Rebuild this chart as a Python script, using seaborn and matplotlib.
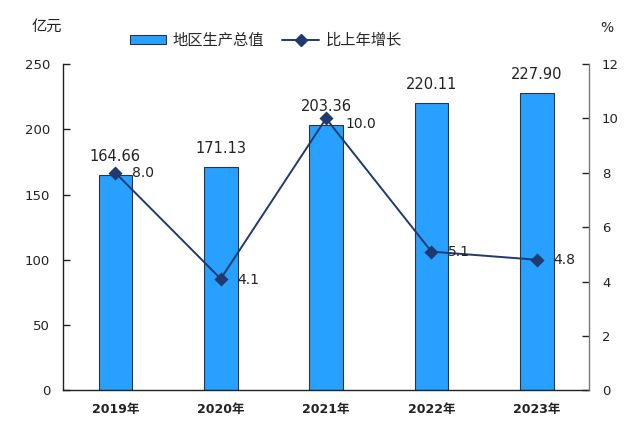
import numpy as np
import pandas as pd
import seaborn as sns
import matplotlib.pyplot as plt
from matplotlib.lines import Line2D
from matplotlib.patches import Patch

years = ['2019年', '2020年', '2021年', '2022年', '2023年']
gdp = [164.66, 171.13, 203.36, 220.11, 227.90]
growth = [8.0, 4.1, 10.0, 5.1, 4.8]

BAR_COLOR = '#28a0ff'
LINE_COLOR = '#1f3a6e'
TEXT_COLOR = '#222222'

sns.set_theme(style='white')
plt.rcParams['font.family'] = ['DejaVu Sans', 'Noto Sans CJK SC']

df = pd.DataFrame({'year': years, 'gdp': gdp, 'growth': growth})

fig = plt.figure(figsize=(6.4, 4.36), dpi=100)
ax = fig.add_axes([0.098, 0.105, 0.823, 0.748])

# bars for the regional GDP
sns.barplot(data=df, x='year', y='gdp', color=BAR_COLOR, width=0.32,
            edgecolor='#333333', linewidth=0.8, saturation=1, ax=ax)
ax.set_ylim(0, 250)
ax.set_yticks(np.arange(0, 251, 50))
ax.set_xlim(-0.5, 4.5)
ax.set_xlabel('')
ax.set_ylabel('')

for i, v in enumerate(gdp):
    ax.annotate(f'{v:.2f}', (i, v), xytext=(0, 8), textcoords='offset points',
                ha='center', va='bottom', fontsize=10.5, color=TEXT_COLOR)

# growth rate line on the right axis
ax2 = ax.twinx()
sns.pointplot(data=df, x='year', y='growth', color=LINE_COLOR, markers='D',
              markersize=6, linewidth=1.4, ax=ax2)
ax2.set_ylim(0, 12)
ax2.set_yticks(np.arange(0, 13, 2))
ax2.set_xlim(-0.5, 4.5)
ax2.set_ylabel('')

offsets = [(12, 0), (12, -1), (14, -4), (12, 0), (12, 0)]
for i, v in enumerate(growth):
    ax2.annotate(f'{v:.1f}', (i, v), xytext=offsets[i], textcoords='offset points',
                 ha='left', va='center', fontsize=10, color=TEXT_COLOR)

for a in (ax, ax2):
    a.spines['top'].set_visible(False)
    for s in a.spines.values():
        s.set_color('#222222')
        s.set_linewidth(1.0)
ax.spines['right'].set_visible(False)
ax2.spines['left'].set_visible(False)
ax2.spines['bottom'].set_visible(False)
ax2.spines['right'].set_color('#777777')

ax.tick_params(axis='y', direction='in', length=5, width=1, labelsize=9.5, pad=9,
               colors=TEXT_COLOR)
ax.tick_params(axis='x', length=0, labelsize=9, pad=9, colors=TEXT_COLOR)
ax2.tick_params(axis='y', direction='in', length=5, width=1, labelsize=9.5, pad=9,
                colors=TEXT_COLOR)
for lbl in ax.get_xticklabels():
    lbl.set_fontweight('bold')

fig.text(0.073, 0.94, '亿元', fontsize=11, ha='center', va='center', color=TEXT_COLOR)
fig.text(0.948, 0.935, '%', fontsize=10, ha='center', va='center', color=TEXT_COLOR)

handles = [Patch(facecolor=BAR_COLOR, edgecolor='#333333', linewidth=0.8),
           Line2D([0], [0], color=LINE_COLOR, marker='D', markersize=6, linewidth=1.4)]
fig.legend(handles, ['地区生产总值', '比上年增长'], loc='center', bbox_to_anchor=(0.415, 0.908),
           ncol=2, frameon=False, fontsize=11, handlelength=2.4, handleheight=0.55,
           columnspacing=1.2, handletextpad=0.4)

fig.savefig('out.png', dpi=100)
